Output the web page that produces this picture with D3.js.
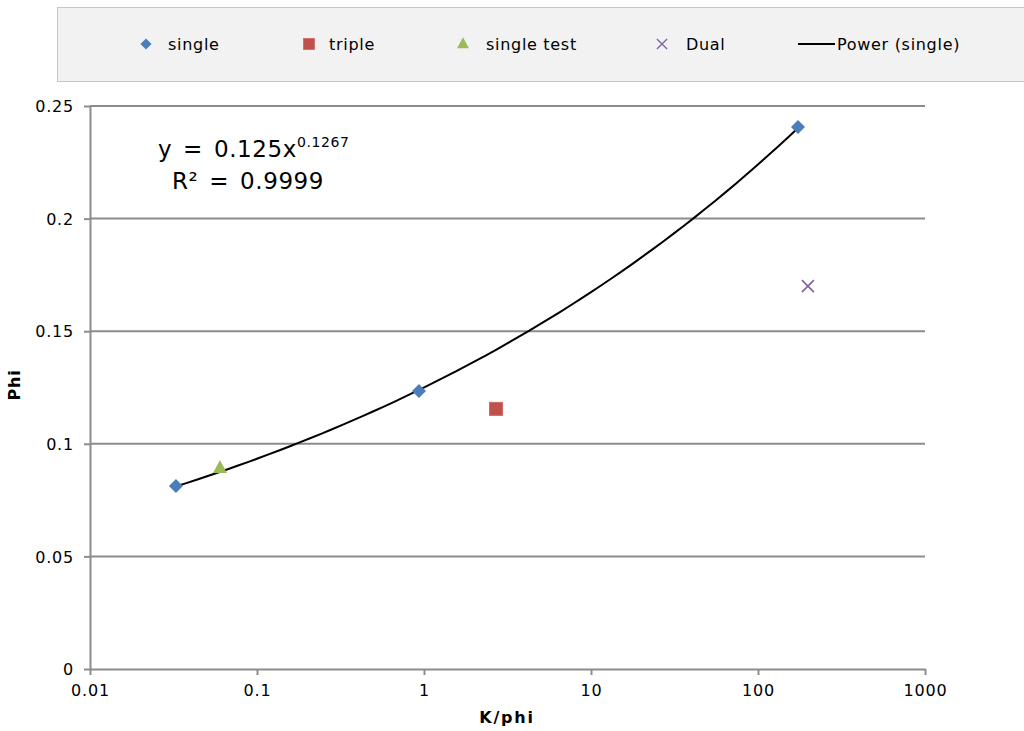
<!DOCTYPE html>
<html><head><meta charset="utf-8">
<script src="https://cdn.jsdelivr.net/npm/d3@7"></script>
<style>body{margin:0;background:#fff}svg{display:block}text{font-family:"DejaVu Sans",Verdana,sans-serif}</style>
</head><body>
<svg id="c" width="1024" height="731"></svg>
<script>
// Data
const singleX = [0.0327, 0.933, 173.6];
const singleY = [0.0813, 0.1234, 0.2407];
const tripleX = [2.70];
const tripleY = [0.1155];
const singleTestX = [0.060];
const singleTestY = [0.0893];
const dualX = [199];
const dualY = [0.170];
// Power trendline coefficients as printed on the chart
const trendA = 0.125, trendB = 0.1267;
const xTicks = [0.01, 0.1, 1, 10, 100, 1000];
const xTickLabels = ["0.01", "0.1", "1", "10", "100", "1000"];
const yTicks = [0, 0.05, 0.1, 0.15, 0.2, 0.25];
const yTickLabels = ["0", "0.05", "0.1", "0.15", "0.2", "0.25"];
const legendLabels = ["single", "triple", "single test", "Dual", "Power (single)"];

const svg = d3.select("#c");
const x = d3.scaleLog().domain([0.01, 1000]).range([90, 925]);
const y = d3.scaleLinear().domain([0, 0.25]).range([669, 106]);
const grid = "#8c8c8c";

// gridlines
svg.append("g").selectAll("line").data(yTicks.slice(1)).join("line")
  .attr("x1", 90).attr("x2", 925).attr("y1", d => y(d)).attr("y2", d => y(d))
  .attr("stroke", grid).attr("stroke-width", 2);

// y axis
const yAxis = svg.append("g").attr("transform", "translate(90,0)")
  .call(d3.axisLeft(y).tickValues(yTicks).tickFormat((d, i) => yTickLabels[i]).tickSize(6).tickSizeOuter(0).tickPadding(10));
// x axis
const xAxis = svg.append("g").attr("transform", "translate(0,669)")
  .call(d3.axisBottom(x).tickValues(xTicks).tickFormat((d, i) => xTickLabels[i]).tickSize(6).tickSizeOuter(0).tickPadding(10));
[yAxis, xAxis].forEach(a => {
  a.select(".domain").attr("stroke", grid).attr("stroke-width", 2);
  a.selectAll(".tick line").attr("stroke", grid).attr("stroke-width", 2);
  a.selectAll(".tick text").attr("font-size", 16).attr("fill", "#000")
   .style("letter-spacing", "0.8px")
   .style("font-family", '"DejaVu Sans",Verdana,sans-serif');
});
yAxis.selectAll(".tick text").attr("dy", "0.36em");

// axis titles
svg.append("text").attr("x", 507).attr("y", 723).attr("text-anchor", "middle")
  .attr("font-size", 16).attr("font-weight", "bold").style("letter-spacing", "1.8px").text("K/phi");
svg.append("text").attr("transform", "translate(20,385) rotate(-90)").attr("text-anchor", "middle")
  .attr("font-size", 16).attr("font-weight", "bold").style("letter-spacing", "0.8px").text("Phi");

// trendline
const lo = d3.min(singleX), hi = d3.max(singleX);
const nSteps = 60;
const trendPts = d3.range(nSteps + 1).map(i => {
  const xv = Math.pow(10, Math.log10(lo) + (Math.log10(hi) - Math.log10(lo)) * i / nSteps);
  return [xv, trendA * Math.pow(xv, trendB)];
});
svg.append("path").datum(trendPts)
  .attr("d", d3.line().x(d => x(d[0])).y(d => y(d[1])))
  .attr("fill", "none").attr("stroke", "#000").attr("stroke-width", 2);

// markers
const cBlue = "#4a7ebb", cRed = "#c0504d", cGreen = "#9bbb59", cPurple = "#8064a2";
const diamondPath = "M0,-7L7,0L0,7L-7,0Z";
function drawMarker(g, kind) {
  if (kind === "single") g.append("path").attr("d", diamondPath).attr("fill", cBlue);
  else if (kind === "triple") g.append("rect").attr("x", -6.5).attr("y", -6.5).attr("width", 13).attr("height", 13).attr("fill", cRed).attr("stroke", "#d06a66").attr("stroke-width", 1);
  else if (kind === "test") g.append("path").attr("d", "M0,-8L7,5L-7,5Z").attr("fill", cGreen);
  else if (kind === "dual") g.append("path").attr("d", "M-6,-6L6,6M-6,6L6,-6").attr("stroke", cPurple).attr("stroke-width", 1.6).attr("fill", "none");
}
function plot(xs, ys, kind) {
  xs.forEach((xv, i) => {
    const g = svg.append("g").attr("transform", `translate(${x(xv)},${y(ys[i])})`);
    drawMarker(g, kind);
  });
}
plot(singleTestX, singleTestY, "test");
plot(singleX, singleY, "single");
plot(tripleX, tripleY, "triple");
plot(dualX, dualY, "dual");

// equation
const eq = svg.append("text").attr("x", 158).attr("y", 157).attr("font-size", 23).attr("fill", "#000")
  .style("letter-spacing", "0.6px").style("word-spacing", "3px");
eq.append("tspan").text("y = " + trendA + "x");
eq.append("tspan").attr("dy", -10).attr("font-size", 14).style("letter-spacing", "0.6px").text(String(trendB));
svg.append("text").attr("x", 248).attr("y", 189).attr("text-anchor", "middle").attr("font-size", 23)
  .style("letter-spacing", "0.6px").style("word-spacing", "3px").text("R² = 0.9999");

// legend
svg.append("rect").attr("x", 57.5).attr("y", 7.5).attr("width", 980).attr("height", 74)
  .attr("fill", "#f2f2f2").attr("stroke", "#c6c6c6").attr("stroke-width", 1);
const legItems = [
  {kind: "single", mx: 146, tx: 168},
  {kind: "triple", mx: 309, tx: 329},
  {kind: "test", mx: 463, tx: 486},
  {kind: "dual", mx: 662, tx: 686},
  {kind: "line", mx: 816, tx: 837}
];
legItems.forEach((it, i) => {
  const g = svg.append("g").attr("transform", `translate(${it.mx},44)`);
  if (it.kind === "line") g.append("line").attr("x1", -18).attr("x2", 19).attr("stroke", "#000").attr("stroke-width", 2);
  else {
    const gg = g.append("g").attr("transform", it.kind === "single" ? "scale(0.8)" : "scale(0.85)");
    drawMarker(gg, it.kind);
  }
  svg.append("text").attr("x", it.tx).attr("y", 44).attr("dy", "0.36em").attr("font-size", 16)
    .style("letter-spacing", "0.7px").text(legendLabels[i]);
});
</script>
</body></html>
